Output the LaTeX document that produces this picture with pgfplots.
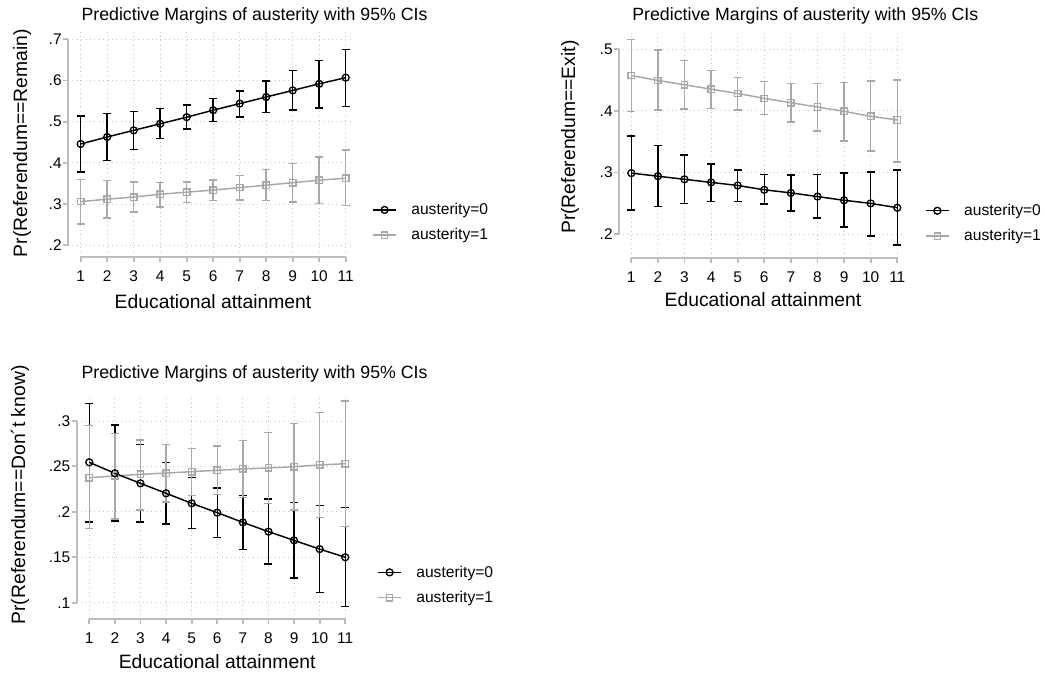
\documentclass[border=0pt]{standalone}
\usepackage{pgfplots}
\pgfplotsset{compat=1.18}
\usepackage{pgfplotstable}
\usepackage{fontspec}
\setmainfont{Liberation Sans}
\definecolor{agray}{RGB}{168,168,168}
\definecolor{axgray}{RGB}{188,188,188}
\definecolor{grgray}{RGB}{195,195,195}

% Remain
\pgfplotstableread{
x y lo hi
1 0.446 0.378 0.514
2 0.463 0.406 0.520
3 0.479 0.433 0.525
4 0.495 0.459 0.532
5 0.511 0.482 0.541
6 0.528 0.500 0.556
7 0.544 0.512 0.575
8 0.560 0.522 0.599
9 0.576 0.528 0.624
10 0.592 0.533 0.649
11 0.607 0.537 0.675
}\remA
\pgfplotstableread{
x y lo hi
1 0.306 0.252 0.360
2 0.312 0.266 0.357
3 0.317 0.281 0.354
4 0.324 0.293 0.352
5 0.329 0.304 0.354
6 0.334 0.309 0.359
7 0.340 0.310 0.370
8 0.346 0.309 0.384
9 0.352 0.305 0.398
10 0.358 0.301 0.414
11 0.363 0.297 0.431
}\remB
% Exit
\pgfplotstableread{
x y lo hi
1 0.299 0.239 0.359
2 0.294 0.245 0.344
3 0.289 0.250 0.328
4 0.284 0.253 0.314
5 0.279 0.253 0.304
6 0.272 0.249 0.297
7 0.267 0.238 0.296
8 0.261 0.226 0.297
9 0.255 0.212 0.299
10 0.250 0.197 0.301
11 0.243 0.183 0.304
}\exA
\pgfplotstableread{
x y lo hi
1 0.457 0.399 0.515
2 0.449 0.401 0.498
3 0.442 0.403 0.481
4 0.435 0.404 0.465
5 0.428 0.401 0.454
6 0.420 0.394 0.447
7 0.413 0.382 0.444
8 0.406 0.367 0.444
9 0.399 0.351 0.446
10 0.391 0.335 0.448
11 0.385 0.317 0.450
}\exB
% Don't know
\pgfplotstableread{
x y lo hi
1 0.2545 0.189 0.319
2 0.2424 0.190 0.2956
3 0.2314 0.189 0.274
4 0.2204 0.1866 0.2545
5 0.2094 0.1815 0.2376
6 0.1991 0.1719 0.2262
7 0.1884 0.1587 0.218
8 0.1782 0.1426 0.214
9 0.1686 0.127 0.2105
10 0.159 0.111 0.207
11 0.150 0.096 0.2046
}\dkA
\pgfplotstableread{
x y lo hi
1 0.2376 0.1815 0.2949
2 0.2395 0.192 0.2864
3 0.2413 0.202 0.2791
4 0.2427 0.211 0.274
5 0.2442 0.218 0.270
6 0.2457 0.219 0.2725
7 0.2472 0.216 0.2783
8 0.2483 0.209 0.2875
9 0.2497 0.202 0.2974
10 0.2516 0.194 0.3092
11 0.2530 0.184 0.322
}\dkB

\newcommand{\tkfont}{\fontsize{11.6}{13}\selectfont}
\pgfplotsset{
  stataax/.style={
    scale only axis, anchor=south west, clip=false,
    axis x line*=bottom, axis y line*=left,
    axis line style={draw=none},
    enlargelimits=false,
    xtick={1,2,3,4,5,6,7,8,9,10,11},
    tick align=outside, major tick length=3.75pt,
    tick style={draw=axgray, line width=1.4pt},
    grid=major,
    grid style={draw=grgray, line width=0.7pt, dash pattern=on 0.7pt off 2.6pt},
    /pgf/number format/assume math mode=true,
    tick label style={font=\tkfont, text=black},
    xticklabel style={font=\tkfont, yshift=-3pt},
    yticklabel style={font=\tkfont, xshift=2.5pt},
    label style={font=\fontsize{14.5}{17}\selectfont},
    legend cell align=left,
    legend style={draw=none, fill=none, font=\fontsize{11.7}{14}\selectfont,
      anchor=west, row sep=5pt, inner sep=0pt,
      /tikz/every odd column/.append style={column sep=9pt}},
  },
  ci0/.style={forget plot, draw=none, mark=none,
    error bars/y dir=both, error bars/y explicit,
    error bars/error bar style={draw=black, line width=1.1pt, solid},
    error bars/error mark options={rotate=90, mark size=3pt, draw=black, line width=1.1pt}},
  ci1/.style={forget plot, draw=none, mark=none,
    error bars/y dir=both, error bars/y explicit,
    error bars/error bar style={draw=agray, line width=1.1pt, solid},
    error bars/error mark options={rotate=90, mark size=3pt, draw=agray, line width=1.1pt}},
  l0/.style={black, line width=1.1pt, mark=o, mark size=2.6pt, mark options={line width=1pt, solid}},
  l1/.style={agray, line width=1.1pt, mark=square, mark size=2.4pt, mark options={line width=1pt, solid}},
}
\newcommand{\ttl}{Predictive Margins of austerity with 95\% CIs}
\newcommand{\tfont}{\fontsize{13.3}{16}\selectfont}

\begin{document}
\begin{tikzpicture}
\useasboundingbox (0,0) rectangle (783.75pt,510pt);

% Panel 1: Remain
\begin{axis}[stataax, at={(51pt,317.25pt)}, width=211.65pt, height=168.8pt,
  xmin=0.521, xmax=11.17, ymin=0.1716, ymax=0.718,
  ytick={0.2,0.3,0.4,0.5,0.6,0.7}, yticklabels={.2,.3,.4,.5,.6,.7},
  xlabel={Educational attainment}, ylabel={Pr(Referendum==Remain)},
  xlabel style={at={(axis description cs:0.514,-0.2)}, anchor=center},
  ylabel style={at={(axis description cs:-0.163,0.506)}, anchor=center},
  title={\ttl}, title style={at={(axis description cs:0.661,1.075)}, anchor=center, font=\tfont, yshift=-6.75pt},
  legend style={at={(axis description cs:1.078,0.153)}}]
\addplot[ci0] table[x=x, y=y, y error plus expr=\thisrow{hi}-\thisrow{y}, y error minus expr=\thisrow{y}-\thisrow{lo}] {\remA};
\addplot[ci1] table[x=x, y=y, y error plus expr=\thisrow{hi}-\thisrow{y}, y error minus expr=\thisrow{y}-\thisrow{lo}] {\remB};
\addplot[l0] table[x=x, y=y] {\remA};
\addplot[l1] table[x=x, y=y] {\remB};
\legend{austerity=0, austerity=1}
\draw[axgray, line width=1.4pt] (axis cs:1,0.1716) -- (axis cs:11,0.1716);
\draw[axgray, line width=1.4pt] (axis cs:0.521,0.2) -- (axis cs:0.521,0.7);
\end{axis}

% Panel 2: Exit
\begin{axis}[stataax, at={(464.25pt,316.5pt)}, width=212.1pt, height=169.5pt,
  xmin=0.538, xmax=11.17, ymin=0.1616, ymax=0.5275,
  ytick={0.2,0.3,0.4,0.5}, yticklabels={.2,.3,.4,.5},
  xlabel={Educational attainment}, ylabel={Pr(Referendum==Exit)},
  xlabel style={at={(axis description cs:0.509,-0.186)}, anchor=center},
  ylabel style={at={(axis description cs:-0.173,0.535)}, anchor=center},
  title={\ttl}, title style={at={(axis description cs:0.659,1.075)}, anchor=center, font=\tfont, yshift=-6.75pt},
  legend style={at={(axis description cs:1.082,0.153)}}]
\addplot[ci1] table[x=x, y=y, y error plus expr=\thisrow{hi}-\thisrow{y}, y error minus expr=\thisrow{y}-\thisrow{lo}] {\exB};
\addplot[ci0] table[x=x, y=y, y error plus expr=\thisrow{hi}-\thisrow{y}, y error minus expr=\thisrow{y}-\thisrow{lo}] {\exA};
\addplot[l0] table[x=x, y=y] {\exA};
\addplot[l1] table[x=x, y=y] {\exB};
\legend{austerity=0, austerity=1}
\draw[axgray, line width=1.4pt] (axis cs:1,0.1616) -- (axis cs:11,0.1616);
\draw[axgray, line width=1.4pt] (axis cs:0.538,0.2) -- (axis cs:0.538,0.5);
\end{axis}

% Panel 3: Don't know
\begin{axis}[stataax, at={(57.5pt,45.5pt)}, width=204.9pt, height=166.0pt,
  xmin=0.508, xmax=11.18, ymin=0.0817, ymax=0.3253,
  ytick={0.1,0.15,0.2,0.25,0.3}, yticklabels={.1,.15,.2,.25,.3},
  xlabel={Educational attainment}, ylabel={Pr(Referendum==Don´t know)},
  xlabel style={at={(axis description cs:0.514,-0.193)}, anchor=center},
  ylabel style={at={(axis description cs:-0.207,0.562)}, anchor=center},
  title={\ttl}, title style={at={(axis description cs:0.651,1.113)}, anchor=center, font=\tfont, yshift=-6.75pt},
  legend style={at={(axis description cs:1.100,0.155)}}]
\addplot[ci0] table[x=x, y=y, y error plus expr=\thisrow{hi}-\thisrow{y}, y error minus expr=\thisrow{y}-\thisrow{lo}] {\dkA};
\addplot[ci1] table[x=x, y=y, y error plus expr=\thisrow{hi}-\thisrow{y}, y error minus expr=\thisrow{y}-\thisrow{lo}] {\dkB};
\addplot[l1, forget plot] table[x=x, y=y] {\dkB};
\addplot[l0] table[x=x, y=y] {\dkA};
\addlegendimage{l1}
\legend{austerity=0, austerity=1}
\draw[axgray, line width=1.4pt] (axis cs:1,0.0817) -- (axis cs:11,0.0817);
\draw[axgray, line width=1.4pt] (axis cs:0.508,0.1) -- (axis cs:0.508,0.3);
\end{axis}
\end{tikzpicture}
\end{document}
